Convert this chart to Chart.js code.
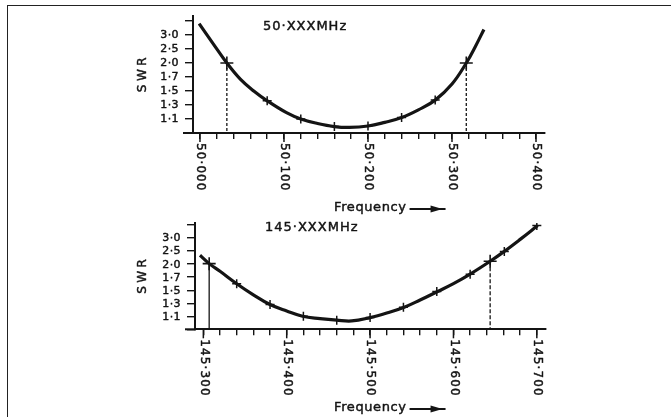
<!DOCTYPE html>
<html><head><meta charset="utf-8">
<script src="https://cdn.jsdelivr.net/npm/chart.js@4"></script>
<style>
html,body{margin:0;padding:0;background:#fff;width:671px;height:417px;overflow:hidden;position:relative;}
#frame{position:absolute;left:7px;top:5px;width:680px;height:430px;border-top:1.5px solid #222;border-left:1.5px solid #222;}
canvas{position:absolute;left:0;}
</style></head><body>
<div id="frame"></div>
<canvas id="c1" width="671" height="215" style="top:0px"></canvas>
<canvas id="c2" width="671" height="202" style="top:215px"></canvas>
<script>
// ---- shared SWR axis (non-linear, equally spaced ticks) ----
const swrTicks = [1.0, 1.1, 1.3, 1.5, 1.7, 2.0, 2.5, 3.0, 4.0];
const swrTickLabels = ['', '1·1', '1·3', '1·5', '1·7', '2·0', '2·5', '3·0', ''];

// ---- 50 MHz band ----
const title50 = '50·XXXMHz';
const xTickValues50 = [50.0, 50.1, 50.2, 50.3, 50.4];
const xTickLabels50 = ['50·000', '50·100', '50·200', '50·300', '50·400'];
const freq50 = [49.999, 50.016, 50.032, 50.048, 50.064, 50.080, 50.103, 50.120, 50.140, 50.160, 50.178, 50.200, 50.220, 50.240, 50.260, 50.280, 50.300, 50.317, 50.328, 50.338];
const swr50  = [3.82,   2.675,  2.00,   1.67,   1.50,   1.36,   1.19,   1.10,   1.068,  1.046,  1.040,  1.050,  1.076,  1.12,   1.23,   1.37,   1.60,   2.00,   2.60,   3.40];
const markFreq50 = [50.08, 50.12, 50.16, 50.20, 50.24, 50.28];
const markSwr50  = [1.36,  1.10,  1.046, 1.05,  1.12,  1.37];
const cross2Freq50 = [50.032, 50.317];
const cross2Swr50  = [2.0, 2.0];

// ---- 145 MHz band ----
const title145 = '145·XXXMHz';
const xTickValues145 = [145.3, 145.4, 145.5, 145.6, 145.7];
const xTickLabels145 = ['145·300', '145·400', '145·500', '145·600', '145·700'];
const freq145 = [145.296, 145.307, 145.320, 145.340, 145.360, 145.380, 145.400, 145.419, 145.440, 145.460, 145.478, 145.500, 145.520, 145.541, 145.560, 145.581, 145.600, 145.620, 145.644, 145.661, 145.680, 145.701];
const swr145  = [2.34,    2.02,    1.835,   1.60,    1.43,    1.28,    1.18,    1.10,    1.082,   1.07,    1.064,   1.09,    1.15,    1.24,    1.35,    1.48,    1.60,    1.77,    2.11,    2.49,    2.95,    3.96];
const markFreq145 = [145.34, 145.38, 145.42, 145.46, 145.50, 145.54, 145.58, 145.62, 145.661, 145.70];
const markSwr145  = [1.60,   1.28,   1.10,   1.07,   1.09,   1.24,   1.48,   1.77,   2.49,    3.96];
const cross2Freq145 = [145.307, 145.644];
const cross2Swr145  = [2.02, 2.11];

// map an SWR value to its position on the equally spaced tick ladder
function swrPos(s) {
  for (let k = 0; k < swrTicks.length - 1; k++) {
    if (s <= swrTicks[k + 1]) return k + (s - swrTicks[k]) / (swrTicks[k + 1] - swrTicks[k]);
  }
  return swrTicks.length - 1;
}
const pts = (fs, ss) => fs.map((f, i) => ({ x: f, y: swrPos(ss[i]) }));

const INK = '#141414';
const FONT = '"DejaVu Sans", sans-serif';

function txt(ctx, s, x, y) {   // medium-weight text: fill plus a thin outline
  ctx.fillText(s, x, y);
  ctx.strokeText(s, x, y);
}

function makeChart(id, o) {
  const drops = o.c2f.map((f, i) => ({
    type: 'line',
    data: [{ x: f, y: swrPos(o.c2s[i]) }, { x: f, y: 0 }],
    borderColor: INK, borderWidth: 1.3, borderDash: o.dashes[i], pointRadius: 0, fill: false
  }));
  const labelPlugin = {
    id: 'labels' + id,
    afterDraw(chart) {
      const ctx = chart.ctx, xs = chart.scales.x, ys = chart.scales.y, ca = chart.chartArea;
      ctx.save();
      ctx.fillStyle = INK; ctx.strokeStyle = INK;
      // x-axis line stub left of y axis
      ctx.lineWidth = 2;
      ctx.beginPath(); ctx.moveTo(ca.left - 10, ca.bottom); ctx.lineTo(ca.left, ca.bottom); ctx.stroke();
      // longer major ticks
      ctx.lineWidth = 1.5;
      o.xv.forEach(v => {
        const px = xs.getPixelForValue(v);
        ctx.beginPath(); ctx.moveTo(px, ca.bottom); ctx.lineTo(px, ca.bottom + 9); ctx.stroke();
      });
      ctx.lineWidth = 0.45; ctx.lineJoin = 'round';
      // x tick labels, rotated clockwise
      ctx.font = '12px ' + FONT; ctx.letterSpacing = '1.1px';
      ctx.textAlign = 'left'; ctx.textBaseline = 'middle';
      o.xv.forEach((v, i) => {
        const px = xs.getPixelForValue(v);
        ctx.save(); ctx.translate(px + 0.5, ca.bottom + 10); ctx.rotate(Math.PI / 2);
        txt(ctx, o.xl[i], 0, 0); ctx.restore();
      });
      // y tick labels
      ctx.font = '11px ' + FONT; ctx.letterSpacing = '0.4px';
      ctx.textAlign = 'right'; ctx.textBaseline = 'middle';
      swrTickLabels.forEach((l, i) => {
        if (l) txt(ctx, l, ca.left - 14, ys.getPixelForValue(i) + 0.5);
      });
      // SWR axis title
      ctx.font = '12px ' + FONT; ctx.letterSpacing = '3.5px';
      ctx.save(); ctx.translate(143, (ca.top + ca.bottom) / 2); ctx.rotate(-Math.PI / 2);
      ctx.textAlign = 'center'; txt(ctx, 'SWR', 1.5, 0); ctx.restore();
      // band title
      ctx.font = '13px ' + FONT; ctx.letterSpacing = '1px';
      ctx.textAlign = 'left'; txt(ctx, o.title, o.titleX, o.titleY);
      // Frequency -> arrow
      ctx.letterSpacing = '0.6px';
      txt(ctx, 'Frequency', 334, o.freqY);
      const w = ctx.measureText('Frequency').width;
      const x0 = 334 + w + 3;
      ctx.lineWidth = 1.8;
      ctx.beginPath(); ctx.moveTo(x0, o.freqY + 1); ctx.lineTo(x0 + 36, o.freqY + 1); ctx.stroke();
      ctx.beginPath(); ctx.moveTo(x0 + 33, o.freqY + 1); ctx.lineTo(x0 + 21, o.freqY - 2.5); ctx.lineTo(x0 + 21, o.freqY + 4.5); ctx.closePath(); ctx.fill();
      ctx.restore();
    }
  };
  return new Chart(document.getElementById(id), {
    type: 'line',
    data: {
      datasets: [
        { data: pts(o.f, o.s), borderColor: INK, borderWidth: 3.2, pointRadius: 0, tension: 0.4, fill: false },
        { type: 'scatter', data: pts(o.mf, o.ms), pointStyle: 'cross', pointRadius: 4.5, borderColor: INK, borderWidth: 1.5, backgroundColor: INK },
        { type: 'scatter', data: pts(o.c2f, o.c2s), pointStyle: 'cross', pointRadius: 6.5, borderColor: INK, borderWidth: 1.6, backgroundColor: INK },
        ...drops
      ]
    },
    options: {
      responsive: false, animation: false, devicePixelRatio: 1,
      layout: { padding: { left: 0, top: o.top, right: o.right, bottom: 0 } },
      plugins: { legend: { display: false }, tooltip: { enabled: false } },
      scales: {
        x: {
          type: 'linear', min: o.xmin, max: o.xmax,
          afterFit(s) { s.height = o.xh; },
          ticks: { stepSize: 0.02, includeBounds: false, display: false },
          grid: { drawOnChartArea: false, drawTicks: true, tickLength: 6, color: INK, lineWidth: 1.4 },
          border: { display: true, color: INK, width: 2 }
        },
        y: {
          type: 'linear', min: 0, max: o.ymax,
          afterFit(s) { s.width = o.yw; },
          ticks: { stepSize: 1, includeBounds: false, display: false },
          grid: { drawOnChartArea: false, drawTicks: true, tickLength: 8, color: INK, lineWidth: 1.4 },
          border: { display: true, color: INK, width: 2 }
        }
      }
    },
    plugins: [labelPlugin]
  });
}

makeChart('c1', {
  f: freq50, s: swr50, mf: markFreq50, ms: markSwr50, c2f: cross2Freq50, c2s: cross2Swr50,
  dashes: [[3, 2], [3, 2]],
  xv: xTickValues50, xl: xTickLabels50, title: title50,
  xmin: 49.9917, xmax: 50.4107, ymax: 8.36,
  top: 16, right: 126, yw: 193, xh: 82,
  titleX: 263, titleY: 27, freqY: 208
});
makeChart('c2', {
  f: freq145, s: swr145, mf: markFreq145, ms: markSwr145, c2f: cross2Freq145, c2s: cross2Swr145,
  dashes: [[], [4, 2]],
  xv: xTickValues145, xl: xTickLabels145, title: title145,
  xmin: 145.290, xmax: 145.711, ymax: 8.15,
  top: 5, right: 125, yw: 195, xh: 87.7,
  titleX: 265, titleY: 13, freqY: 193
});
</script>
</body></html>
